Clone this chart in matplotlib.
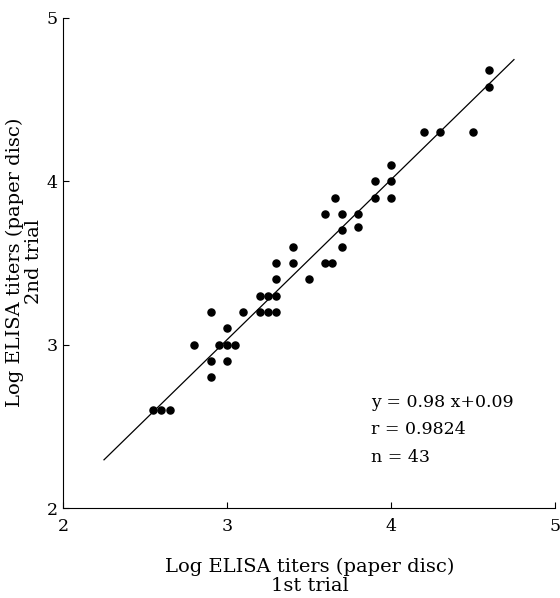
import matplotlib
matplotlib.use("Agg")
import matplotlib.pyplot as plt
import numpy as np

plt.rcParams['font.family'] = ['DejaVu Serif']

# 1st trial (x) and 2nd trial (y) log ELISA titers
trial1 = [2.55, 2.6, 2.65,
          2.9,
          2.9, 3.0,
          2.8, 2.95, 3.0, 3.05,
          3.0,
          2.9, 3.1, 3.2, 3.25, 3.3,
          3.2, 3.25, 3.3,
          3.3, 3.5,
          3.3, 3.4, 3.6, 3.64,
          3.4, 3.7,
          3.7,
          3.8,
          3.6, 3.7, 3.8,
          3.66, 3.9, 4.0,
          3.9, 4.0,
          4.0,
          4.2, 4.3, 4.5,
          4.6,
          4.6]
trial2 = [2.6, 2.6, 2.6,
          2.8,
          2.9, 2.9,
          3.0, 3.0, 3.0, 3.0,
          3.1,
          3.2, 3.2, 3.2, 3.2, 3.2,
          3.3, 3.3, 3.3,
          3.4, 3.4,
          3.5, 3.5, 3.5, 3.5,
          3.6, 3.6,
          3.7,
          3.72,
          3.8, 3.8, 3.8,
          3.9, 3.9, 3.9,
          4.0, 4.0,
          4.1,
          4.3, 4.3, 4.3,
          4.58,
          4.68]

slope = 0.98
intercept = 0.09
line_x = [2.25, 4.75]

fig = plt.figure(figsize=(5.6, 5.98), dpi=100)
ax = fig.add_axes([0.1125, 0.1505, 0.8785, 0.8195])

ax.scatter(trial1, trial2, s=26, color='black', zorder=3)
lx = np.array(line_x)
ax.plot(lx, slope * lx + intercept, color='black', linewidth=0.9)

ax.set_xlim(2, 5)
ax.set_ylim(2, 5)
ax.set_xticks([2, 3, 4, 5])
ax.set_yticks([2, 3, 4, 5])
ax.spines['top'].set_visible(False)
ax.spines['right'].set_visible(False)
ax.tick_params(direction='in', length=4, width=0.8, labelsize=12.5)
ax.tick_params(axis='x', pad=7)
ax.tick_params(axis='y', pad=4)

ax.set_xlabel('Log ELISA titers (paper disc)\n1st trial', fontsize=14,
              linespacing=1.1, va='center', ha='center')
ax.xaxis.set_label_coords(0.502, -0.139)
ax.set_ylabel('Log ELISA titers (paper disc)\n2nd trial', fontsize=14,
              linespacing=1.1, va='center', ha='center')
ax.yaxis.set_label_coords(-0.079, 0.502)

ax.text(3.88, 2.646, 'y = 0.98 x+0.09', fontsize=12.5, va='center')
ax.text(3.88, 2.48, 'r = 0.9824', fontsize=12.5, va='center')
ax.text(3.88, 2.31, 'n = 43', fontsize=12.5, va='center')

fig.savefig('out.png', dpi=100)
